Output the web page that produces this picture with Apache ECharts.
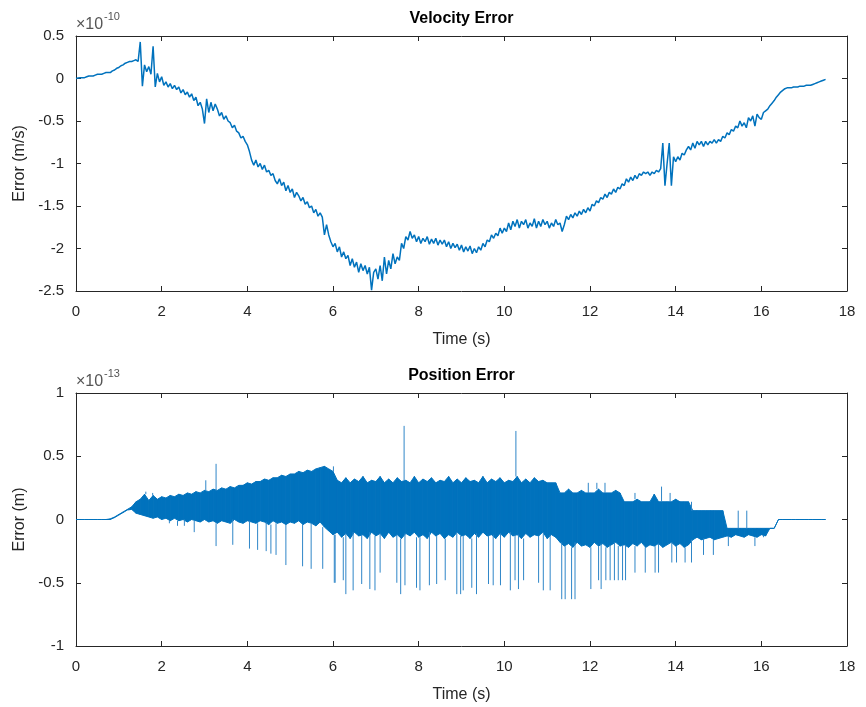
<!DOCTYPE html>
<html>
<head>
<meta charset="utf-8">
<script src="https://cdn.jsdelivr.net/npm/echarts@6/dist/echarts.min.js"></script>
<style>
  html, body { margin: 0; background: #fff; }
  #chart { width: 866px; height: 707px; }
</style>
</head>
<body>
<div id="chart"></div>
<script>
// velocity error, units of 1e-10 m/s, sampled every 0.05 s from t = 0
var velStep = 0.05;
var velValues = [
  // 0.00 - 1.95
  0.00, 0.005, 0.01, 0.01, 0.01, 0.02, 0.03, 0.03, 0.03, 0.04,
  0.05, 0.05, 0.05, 0.06, 0.07, 0.07, 0.07, 0.09, 0.10, 0.12,
  0.13, 0.15, 0.16, 0.18, 0.19, 0.20, 0.20, 0.21, 0.22, 0.20,
  0.43, -0.09, 0.16, 0.08, 0.14, 0.05, 0.38, -0.10, 0.06, -0.04,
  // 2.00 - 2.95
  0.02, -0.08, -0.04, -0.10, -0.06, -0.12, -0.08, -0.13, -0.10, -0.17,
  -0.13, -0.19, -0.16, -0.22, -0.18, -0.26, -0.22, -0.32, -0.28, -0.36,
  // 3.00 - 3.95
  -0.53, -0.24, -0.40, -0.28, -0.38, -0.30, -0.36, -0.44, -0.40, -0.48,
  -0.44, -0.50, -0.52, -0.58, -0.55, -0.62, -0.64, -0.70, -0.68, -0.74,
  // 4.00 - 4.95
  -0.78, -0.86, -0.96, -1.02, -0.96, -1.04, -1.00, -1.07, -1.02, -1.10,
  -1.08, -1.14, -1.12, -1.20, -1.24, -1.18, -1.26, -1.22, -1.32, -1.26,
  // 5.00 - 5.95
  -1.34, -1.30, -1.40, -1.34, -1.38, -1.44, -1.40, -1.48, -1.45, -1.52,
  -1.50, -1.58, -1.54, -1.62, -1.58, -1.63, -1.84, -1.72, -1.84, -1.92,
  // 6.00 - 6.95
  -1.98, -1.94, -2.04, -1.98, -2.10, -2.04, -2.12, -2.08, -2.20, -2.12,
  -2.22, -2.16, -2.28, -2.18, -2.26, -2.20, -2.30, -2.22, -2.49, -2.28,
  // 7.00 - 7.95
  -2.24, -2.36, -2.20, -2.38, -2.10, -2.30, -2.14, -2.24, -2.06, -2.18,
  -2.10, -2.14, -1.94, -2.00, -1.86, -1.90, -1.80, -1.88, -1.84, -1.92,
  // 8.00 - 8.95
  -1.86, -1.94, -1.88, -1.92, -1.86, -1.95, -1.89, -1.94, -1.88, -1.96,
  -1.90, -1.95, -1.90, -1.98, -1.92, -2.00, -1.94, -1.99, -1.95, -2.02,
  // 9.00 - 9.95
  -1.96, -2.04, -1.98, -2.03, -1.97, -2.06, -2.00, -2.05, -1.98, -2.02,
  -1.94, -1.98, -1.90, -1.92, -1.84, -1.88, -1.82, -1.85, -1.76, -1.82,
  // 10.00 - 10.95
  -1.76, -1.80, -1.70, -1.78, -1.68, -1.74, -1.66, -1.76, -1.68, -1.72,
  -1.66, -1.76, -1.70, -1.74, -1.65, -1.76, -1.68, -1.74, -1.66, -1.72,
  // 11.00 - 11.95
  -1.68, -1.76, -1.70, -1.74, -1.66, -1.72, -1.70, -1.80, -1.72, -1.62,
  -1.66, -1.60, -1.64, -1.58, -1.62, -1.56, -1.60, -1.54, -1.58, -1.52,
  // 12.00 - 12.95
  -1.56, -1.48, -1.50, -1.44, -1.46, -1.40, -1.42, -1.36, -1.40, -1.34,
  -1.36, -1.30, -1.34, -1.28, -1.30, -1.24, -1.26, -1.18, -1.22, -1.16,
  // 13.00 - 13.95
  -1.20, -1.14, -1.18, -1.12, -1.14, -1.10, -1.12, -1.10, -1.14, -1.10,
  -1.12, -1.08, -1.10, -1.06, -0.76, -1.26, -1.00, -0.76, -1.26, -0.92,
  // 14.00 - 14.95
  -0.98, -0.92, -0.96, -0.88, -0.90, -0.84, -0.80, -0.84, -0.76, -0.82,
  -0.74, -0.78, -0.74, -0.80, -0.74, -0.78, -0.74, -0.76, -0.72, -0.76,
  // 15.00 - 15.95
  -0.72, -0.74, -0.68, -0.70, -0.64, -0.66, -0.60, -0.62, -0.56, -0.58,
  -0.50, -0.56, -0.52, -0.58, -0.46, -0.50, -0.44, -0.56, -0.42, -0.46,
  // 16.00 - 16.95
  -0.48, -0.40, -0.38, -0.36, -0.32, -0.29, -0.26, -0.22, -0.19, -0.16,
  -0.14, -0.12, -0.11, -0.11, -0.11, -0.10, -0.10, -0.10, -0.09, -0.09,
  // 17.00 - 17.50
  -0.09, -0.08, -0.08, -0.08, -0.07, -0.06, -0.05, -0.04, -0.03, -0.02,
  -0.01
];

// position error, units of 1e-13 m: top and bottom of the dense band, every 0.1 s
var posStep = 0.1;
var posUpper = [
  0, 0, 0, 0, 0, 0, 0, 0, 0.005, 0.02,
  0.04, 0.06, 0.08, 0.10, 0.14, 0.16, 0.20, 0.15, 0.19, 0.16,
  0.18, 0.17, 0.19, 0.18, 0.20, 0.19, 0.21, 0.20, 0.22, 0.21,
  0.23, 0.22, 0.24, 0.23, 0.25, 0.24, 0.26, 0.25, 0.27, 0.27,
  0.29, 0.28, 0.30, 0.30, 0.32, 0.31, 0.33, 0.33, 0.35, 0.34,
  0.36, 0.36, 0.38, 0.37, 0.39, 0.38, 0.40, 0.41, 0.42, 0.40,
  0.38, 0.31, 0.29, 0.33, 0.29, 0.32, 0.30, 0.34, 0.29, 0.31,
  0.30, 0.34, 0.29, 0.32, 0.29, 0.33, 0.30, 0.31, 0.29, 0.34,
  0.29, 0.32, 0.30, 0.33, 0.29, 0.31, 0.30, 0.34, 0.29, 0.32,
  0.29, 0.33, 0.30, 0.31, 0.29, 0.34, 0.29, 0.32, 0.30, 0.33,
  0.29, 0.31, 0.30, 0.34, 0.29, 0.32, 0.29, 0.33, 0.30, 0.31,
  0.29, 0.29, 0.29, 0.21, 0.21, 0.24, 0.21, 0.21, 0.23, 0.21,
  0.21, 0.21, 0.24, 0.21, 0.21, 0.21, 0.23, 0.21, 0.14, 0.14,
  0.14, 0.16, 0.14, 0.14, 0.14, 0.20, 0.14, 0.14, 0.14, 0.14,
  0.16, 0.14, 0.14, 0.14, 0.07, 0.07, 0.07, 0.07, 0.07, 0.07,
  0.07, 0.07, -0.07, -0.07, -0.07, -0.07, -0.07, -0.07, -0.07, -0.07,
  -0.07, -0.07, -0.07, -0.07, 0, 0, 0, 0, 0, 0,
  0, 0, 0, 0, 0, 0
];
var posLower = [
  0, 0, 0, 0, 0, 0, 0, 0, 0, 0.015,
  0.035, 0.055, 0.075, 0.08, 0.05, 0.04, 0.03, 0.02, 0.01, 0.02,
  0.00, 0.01, -0.01, 0.01, -0.01, 0.00, -0.02, 0.00, -0.01, -0.02,
  0.00, -0.02, -0.01, -0.03, -0.01, -0.02, -0.03, 0.00, -0.02, -0.03,
  -0.01, -0.02, -0.03, -0.01, -0.02, -0.04, -0.01, -0.03, -0.02, -0.04,
  -0.02, -0.03, -0.01, -0.04, -0.02, -0.03, -0.05, -0.02, -0.06, -0.09,
  -0.12, -0.10, -0.14, -0.11, -0.15, -0.10, -0.13, -0.12, -0.15, -0.10,
  -0.13, -0.11, -0.15, -0.10, -0.14, -0.12, -0.15, -0.11, -0.13, -0.10,
  -0.14, -0.12, -0.15, -0.10, -0.13, -0.11, -0.15, -0.12, -0.14, -0.10,
  -0.13, -0.12, -0.15, -0.11, -0.14, -0.10, -0.13, -0.12, -0.15, -0.11,
  -0.14, -0.10, -0.13, -0.12, -0.15, -0.11, -0.14, -0.12, -0.13, -0.10,
  -0.15, -0.12, -0.14, -0.18, -0.21, -0.19, -0.22, -0.18, -0.21, -0.20,
  -0.22, -0.18, -0.21, -0.19, -0.22, -0.20, -0.18, -0.21, -0.20, -0.22,
  -0.19, -0.21, -0.18, -0.22, -0.20, -0.21, -0.19, -0.22, -0.20, -0.18,
  -0.21, -0.19, -0.22, -0.20, -0.16, -0.14, -0.16, -0.15, -0.14, -0.16,
  -0.15, -0.14, -0.13, -0.14, -0.12, -0.13, -0.14, -0.12, -0.13, -0.14,
  -0.12, -0.13, -0.07, -0.07, 0, 0, 0, 0, 0, 0,
  0, 0, 0, 0, 0, 0
];
// isolated spikes sticking out of the band
var posSpikeTimes = [
  1.63, 1.79, 3.03, 3.27, 6.01, 7.66, 10.27,
  11.96, 12.16, 12.35, 13.05, 13.67, 13.87, 14.14, 14.37, 15.46, 15.66,
  2.18, 2.37, 2.53, 2.76, 3.27, 3.66, 4.05, 4.24, 4.44, 4.55, 4.67, 4.90,
  5.29, 5.49, 5.76, 6.03, 6.05, 6.24, 6.30, 6.47, 6.67, 6.86, 6.98, 7.10,
  7.49, 7.58, 7.68, 7.95, 8.03, 8.25, 8.42, 8.62, 8.89, 8.98, 9.04, 9.24,
  9.35, 9.63, 9.74, 9.91, 10.14, 10.25, 10.33, 10.45, 10.80, 10.91, 11.07,
  11.34, 11.42, 11.57, 11.65, 12.02, 12.20, 12.26, 12.37, 12.47, 12.57,
  12.66, 12.76, 12.83, 13.05, 13.29, 13.52, 13.60, 13.91, 14.02, 14.22,
  14.37, 14.65, 14.88, 15.23, 15.85, 16.05
];
var posSpikeValues = [
  0.22, 0.21, 0.31, 0.44, 0.42, 0.74, 0.70,
  0.29, 0.29, 0.29, 0.21, 0.26, 0.21, 0.14, 0.14, 0.07, 0.07,
  -0.03, -0.05, -0.05, -0.10, -0.21, -0.20, -0.23, -0.24, -0.25, -0.27, -0.28, -0.36,
  -0.37, -0.39, -0.39, -0.50, -0.50, -0.48, -0.59, -0.56, -0.51, -0.55, -0.56, -0.42,
  -0.50, -0.59, -0.52, -0.54, -0.56, -0.52, -0.51, -0.48, -0.59, -0.59, -0.56, -0.54,
  -0.59, -0.51, -0.52, -0.52, -0.56, -0.48, -0.55, -0.48, -0.50, -0.56, -0.56,
  -0.63, -0.63, -0.63, -0.63, -0.55, -0.48, -0.55, -0.48, -0.48, -0.48,
  -0.48, -0.48, -0.48, -0.42, -0.42, -0.42, -0.42, -0.34, -0.34, -0.34,
  -0.34, -0.28, -0.28, -0.21, -0.21, -0.14
];

var xTicks = { min: 0, max: 18, interval: 2 };
var velTicks = { min: -2.5, max: 0.5, interval: 0.5 };
var posTicks = { min: -1, max: 1, interval: 0.5 };

var ink = '#262626';
var lineBlue = '#0072BD';
var font = "'Liberation Sans', Arial, Helvetica, sans-serif";

var velData = velValues.map(function (v, i) { return [+(i * velStep).toFixed(2), v]; });

// band samples: [t, top, bottom]
var bandData = posUpper.map(function (u, i) { return [+(i * posStep).toFixed(2), u, posLower[i]]; });

// each spike is a short vertical stroke leaving the band edge at that sample
var spikeData = [];
posSpikeTimes.forEach(function (t, i) {
  var k = Math.round(t / posStep);
  var v = posSpikeValues[i];
  var edge = v > 0 ? posUpper[k] : posLower[k];
  spikeData.push([t, edge], [t, v], [t, '-']);
});

// fill between this sample and the next one
function renderBand(params, api) {
  var i = params.dataIndex;
  if (i >= bandData.length - 1) return;
  var a = bandData[i], b = bandData[i + 1];
  var pts = [
    api.coord([a[0], a[1]]), api.coord([b[0], b[1]]),
    api.coord([b[0], b[2]]), api.coord([a[0], a[2]])
  ];
  return {
    type: 'polygon',
    shape: { points: pts },
    style: { fill: lineBlue, stroke: lineBlue, lineWidth: 1 }
  };
}

function xAxes(grid) {
  var base = {
    gridIndex: grid, type: 'value', min: xTicks.min, max: xTicks.max, interval: xTicks.interval,
    axisLine: { onZero: false, lineStyle: { color: ink, width: 1 } },
    axisTick: { inside: true, length: 5, lineStyle: { color: ink } },
    splitLine: { show: false }
  };
  return [
    Object.assign({}, base, {
      position: 'bottom',
      axisLabel: { color: ink, fontSize: 15, fontFamily: font, margin: 13 },
      name: 'Time (s)', nameLocation: 'middle', nameGap: 41,
      nameTextStyle: { color: ink, fontSize: 16, fontFamily: font }
    }),
    Object.assign({}, base, { position: 'top', axisLabel: { show: false } })
  ];
}

function yAxes(grid, ticks, title) {
  var base = {
    gridIndex: grid, type: 'value', min: ticks.min, max: ticks.max, interval: ticks.interval,
    axisLine: { onZero: false, lineStyle: { color: ink, width: 1 } },
    axisTick: { inside: true, length: 5, lineStyle: { color: ink } },
    splitLine: { show: false }
  };
  return [
    Object.assign({}, base, {
      position: 'left',
      axisLabel: { color: ink, fontSize: 15, fontFamily: font, margin: 12 },
      name: title, nameLocation: 'middle', nameGap: 48,
      nameTextStyle: { color: ink, fontSize: 16, fontFamily: font }
    }),
    Object.assign({}, base, { position: 'right', axisLabel: { show: false } })
  ];
}

var chart = echarts.init(document.getElementById('chart'));
chart.setOption({
  animation: false,
  grid: [
    { left: 76, right: 19, top: 36, height: 255 },
    { left: 76, right: 19, top: 393, height: 253 }
  ],
  xAxis: xAxes(0).concat(xAxes(1)),
  yAxis: yAxes(0, velTicks, 'Error (m/s)').concat(yAxes(1, posTicks, 'Error (m)')),
  graphic: [
    { type: 'text', x: 461.5, y: 11, style: { text: 'Velocity Error', fontSize: 16, fontWeight: 'bold', fontFamily: font, fill: '#000', textAlign: 'center' } },
    { type: 'text', x: 76, y: 17, style: { text: '×10', fontSize: 16, fontFamily: font, fill: '#555' } },
    { type: 'text', x: 104, y: 11, style: { text: '-10', fontSize: 11, fontFamily: font, fill: '#555' } },
    { type: 'text', x: 461.5, y: 368, style: { text: 'Position Error', fontSize: 16, fontWeight: 'bold', fontFamily: font, fill: '#000', textAlign: 'center' } },
    { type: 'text', x: 76, y: 374, style: { text: '×10', fontSize: 16, fontFamily: font, fill: '#555' } },
    { type: 'text', x: 104, y: 368, style: { text: '-13', fontSize: 11, fontFamily: font, fill: '#555' } }
  ],
  series: [
    {
      type: 'line', xAxisIndex: 0, yAxisIndex: 0, data: velData,
      showSymbol: false, lineStyle: { color: lineBlue, width: 1.5 }
    },
    {
      type: 'custom', xAxisIndex: 2, yAxisIndex: 2, data: bandData,
      encode: { x: 0, y: [1, 2] }, renderItem: renderBand
    },
    {
      type: 'line', xAxisIndex: 2, yAxisIndex: 2, data: spikeData,
      showSymbol: false, connectNulls: false, lineStyle: { color: '#2f86c8', width: 1 }
    }
  ]
});
</script>
</body>
</html>
